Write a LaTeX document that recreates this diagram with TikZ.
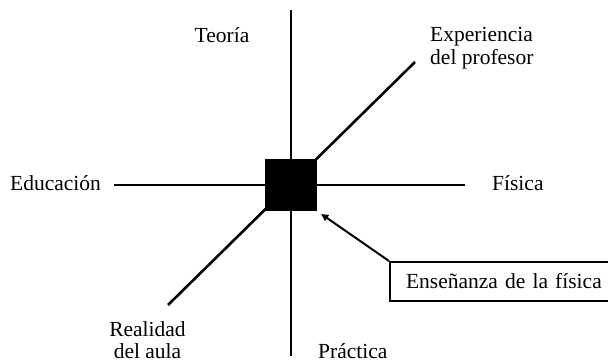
\documentclass[tikz,border=0pt]{standalone}
\usepackage{fontspec}
\setmainfont{Liberation Serif}
\usetikzlibrary{arrows.meta}
\begin{document}
\begin{tikzpicture}[x=1pt,y=-1pt,
  axis/.style={line width=2.6pt},
  lbl/.style={inner sep=0pt, font=\fontsize{21.5}{22.6}\selectfont},
  arr/.style={line width=2pt, -{Triangle[length=7pt,width=7pt]}, shorten >=5pt}]
\useasboundingbox (0,0) rectangle (608,362);
% end points
\coordinate (t) at (291,10);
\coordinate (b) at (291,356);
\coordinate (l) at (114,185);
\coordinate (r) at (465,185);
\coordinate (ur) at (415,62);
\coordinate (ll) at (168,305);
\coordinate (c) at (291,185);
% axes
\draw[axis] (t) -- (b);
\draw[axis] (l) -- (r);
\draw[axis] (ll) -- (ur);
% centre square
\node[fill=black, minimum size=52pt, inner sep=0pt] (sq) at (c) {};
% labels
\node[lbl, anchor=base] (teo) at (222,42) {Teoría};
\node[lbl, anchor=west, align=left] (exp) at (430,48) {Experiencia\\del profesor};
\node[lbl, anchor=base west] (edu) at (10,190) {Educación};
\node[lbl, anchor=base west] (fis) at (492,190) {Física};
\node[lbl, align=center] (rea) at (147.5,340) {Realidad\\del aula};
\node[lbl, anchor=base west] (pra) at (318,358) {Práctica};
% box
\node[lbl, draw, line width=2pt, anchor=north west, minimum height=39pt,
      text width=210pt, inner xsep=16pt, align=left] (ens) at (389,261)
      {Enseñanza de la física};
\draw[arr] (ens.north west) -- (sq.south east);
\end{tikzpicture}
\end{document}
